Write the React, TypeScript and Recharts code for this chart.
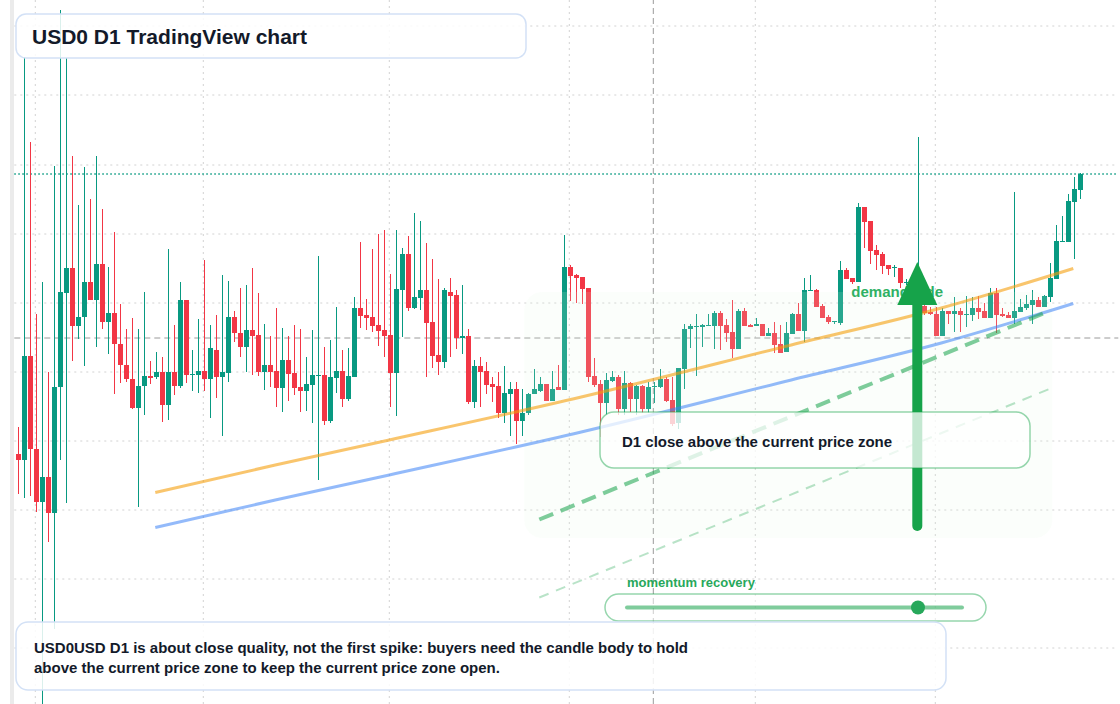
import React from "react";
import {
  ComposedChart,
  XAxis,
  YAxis,
  Bar,
  Line,
  ReferenceLine,
  ReferenceArea,
  ReferenceDot,
} from "recharts";

// USD0 daily candles (29 Jan 2025 onwards)
const opens = [
  1.0250, 1.0244, 1.0348, 1.0255, 1.0202, 1.0227, 1.0191, 1.0317, 1.0411, 1.0436,
  1.0378, 1.0387, 1.0422, 1.0404, 1.0440, 1.0382, 1.0391, 1.0360, 1.0339, 1.0325,
  1.0296, 1.0318, 1.0328, 1.0327, 1.0332, 1.0299, 1.0332, 1.0318, 1.0404, 1.0329,
  1.0329, 1.0333, 1.0325, 1.0354, 1.0327, 1.0331, 1.0387, 1.0371, 1.0357, 1.0374,
  1.0369, 1.0332, 1.0339, 1.0333, 1.0316, 1.0344, 1.0331, 1.0317, 1.0313, 1.0319,
  1.0328, 1.0329, 1.0283, 1.0326, 1.0333, 1.0305, 1.0327, 1.0396, 1.0389, 1.0387,
  1.0379, 1.0374, 1.0369, 1.0331, 1.0414, 1.0450, 1.0396, 1.0406, 1.0414, 1.0382,
  1.0349, 1.0342, 1.0412, 1.0409, 1.0366, 1.0368, 1.0302, 1.0338, 1.0333, 1.0320,
  1.0318, 1.0291, 1.0310, 1.0315, 1.0283, 1.0291, 1.0310, 1.0313, 1.0320, 1.0303,
  1.0317, 1.0314, 1.0437, 1.0429, 1.0427, 1.0416, 1.0328, 1.0320, 1.0301, 1.0323,
  1.0327, 1.0295, 1.0321, 1.0305, 1.0318, 1.0295, 1.0317, 1.0317, 1.0325, 1.0304,
  1.0281, 1.0335, 1.0375, 1.0377, 1.0377, 1.0378, 1.0378, 1.0391, 1.0379, 1.0372,
  1.0355, 1.0393, 1.0379, 1.0378, 1.0380, 1.0368, 1.0371, 1.0360, 1.0352, 1.0370,
  1.0390, 1.0373, 1.0413, 1.0414, 1.0398, 1.0387, 1.0382, 1.0381, 1.0434, 1.0426,
  1.0422, 1.0497, 1.0483, 1.0454, 1.0450, 1.0439, 1.0436, 1.0436, 1.0421, 1.0422,
  1.0400, 1.0398, 1.0392, 1.0390, 1.0368, 1.0393, 1.0390, 1.0393, 1.0389, 1.0389,
  1.0396, 1.0393, 1.0386, 1.0411, 1.0390, 1.0389, 1.0386, 1.0392, 1.0396, 1.0399,
  1.0404, 1.0397, 1.0407, 1.0425, 1.0462, 1.0462, 1.0502, 1.0514,
];
const highs = [
  1.0277, 1.0647, 1.0562, 1.0390, 1.0422, 1.0332, 1.0538, 1.0694, 1.0646, 1.0548,
  1.0499, 1.0537, 1.0505, 1.0548, 1.0495, 1.0437, 1.0472, 1.0400, 1.0375, 1.0386,
  1.0375, 1.0412, 1.0343, 1.0352, 1.0347, 1.0455, 1.0379, 1.0422, 1.0404, 1.0354,
  1.0385, 1.0444, 1.0379, 1.0389, 1.0429, 1.0423, 1.0393, 1.0416, 1.0419, 1.0436,
  1.0411, 1.0380, 1.0368, 1.0396, 1.0376, 1.0368, 1.0379, 1.0375, 1.0347, 1.0374,
  1.0448, 1.0357, 1.0364, 1.0397, 1.0354, 1.0356, 1.0407, 1.0462, 1.0405, 1.0455,
  1.0470, 1.0474, 1.0430, 1.0474, 1.0456, 1.0468, 1.0491, 1.0483, 1.0461, 1.0445,
  1.0425, 1.0416, 1.0426, 1.0414, 1.0419, 1.0375, 1.0344, 1.0347, 1.0342, 1.0327,
  1.0332, 1.0338, 1.0322, 1.0322, 1.0315, 1.0311, 1.0335, 1.0327, 1.0320, 1.0333,
  1.0339, 1.0469, 1.0439, 1.0430, 1.0427, 1.0416, 1.0346, 1.0324, 1.0331, 1.0333,
  1.0329, 1.0333, 1.0322, 1.0319, 1.0319, 1.0322, 1.0322, 1.0335, 1.0327, 1.0327,
  1.0336, 1.0380, 1.0380, 1.0390, 1.0380, 1.0390, 1.0393, 1.0393, 1.0385, 1.0404,
  1.0395, 1.0396, 1.0380, 1.0386, 1.0380, 1.0376, 1.0382, 1.0379, 1.0382, 1.0391,
  1.0401, 1.0426, 1.0429, 1.0415, 1.0400, 1.0389, 1.0383, 1.0443, 1.0436, 1.0426,
  1.0501, 1.0497, 1.0483, 1.0459, 1.0452, 1.0439, 1.0439, 1.0436, 1.0425, 1.0424,
  1.0567, 1.0399, 1.0397, 1.0397, 1.0396, 1.0393, 1.0407, 1.0396, 1.0408, 1.0407,
  1.0408, 1.0401, 1.0416, 1.0416, 1.0396, 1.0392, 1.0512, 1.0405, 1.0409, 1.0414,
  1.0407, 1.0409, 1.0441, 1.0479, 1.0488, 1.0510, 1.0527, 1.0531,
];
const lows = [
  1.0210, 1.0206, 1.0208, 1.0192, 1.0000, 1.0162, 1.0075, 1.0244, 1.0201, 1.0343,
  1.0365, 1.0338, 1.0404, 1.0357, 1.0375, 1.0350, 1.0310, 1.0321, 1.0322, 1.0295,
  1.0197, 1.0289, 1.0320, 1.0325, 1.0282, 1.0284, 1.0309, 1.0316, 1.0321, 1.0313,
  1.0311, 1.0313, 1.0286, 1.0306, 1.0268, 1.0322, 1.0362, 1.0347, 1.0332, 1.0329,
  1.0328, 1.0314, 1.0317, 1.0297, 1.0292, 1.0303, 1.0309, 1.0292, 1.0293, 1.0281,
  1.0224, 1.0279, 1.0281, 1.0311, 1.0297, 1.0303, 1.0327, 1.0376, 1.0374, 1.0372,
  1.0358, 1.0347, 1.0297, 1.0288, 1.0367, 1.0393, 1.0395, 1.0394, 1.0327, 1.0336,
  1.0329, 1.0336, 1.0347, 1.0355, 1.0350, 1.0300, 1.0296, 1.0297, 1.0310, 1.0302,
  1.0286, 1.0281, 1.0268, 1.0260, 1.0268, 1.0289, 1.0310, 1.0312, 1.0303, 1.0303,
  1.0314, 1.0314, 1.0403, 1.0401, 1.0400, 1.0322, 1.0317, 1.0267, 1.0289, 1.0322,
  1.0289, 1.0289, 1.0292, 1.0289, 1.0291, 1.0291, 1.0301, 1.0316, 1.0302, 1.0278,
  1.0275, 1.0315, 1.0356, 1.0328, 1.0357, 1.0378, 1.0355, 1.0354, 1.0362, 1.0346,
  1.0355, 1.0378, 1.0377, 1.0378, 1.0368, 1.0368, 1.0351, 1.0351, 1.0352, 1.0370,
  1.0373, 1.0362, 1.0413, 1.0397, 1.0386, 1.0380, 1.0380, 1.0379, 1.0425, 1.0420,
  1.0422, 1.0456, 1.0440, 1.0434, 1.0430, 1.0429, 1.0427, 1.0416, 1.0419, 1.0404,
  1.0394, 1.0389, 1.0389, 1.0368, 1.0368, 1.0380, 1.0372, 1.0372, 1.0377, 1.0383,
  1.0385, 1.0386, 1.0386, 1.0371, 1.0387, 1.0386, 1.0380, 1.0392, 1.0394, 1.0380,
  1.0397, 1.0397, 1.0402, 1.0425, 1.0462, 1.0462, 1.0445, 1.0505,
];
const closes = [
  1.0244, 1.0348, 1.0255, 1.0202, 1.0227, 1.0191, 1.0317, 1.0412, 1.0436, 1.0378,
  1.0387, 1.0422, 1.0404, 1.0440, 1.0382, 1.0391, 1.0360, 1.0339, 1.0325, 1.0296,
  1.0318, 1.0328, 1.0326, 1.0332, 1.0299, 1.0332, 1.0318, 1.0404, 1.0329, 1.0330,
  1.0333, 1.0325, 1.0356, 1.0327, 1.0332, 1.0387, 1.0371, 1.0357, 1.0374, 1.0368,
  1.0332, 1.0339, 1.0332, 1.0316, 1.0344, 1.0330, 1.0316, 1.0313, 1.0320, 1.0329,
  1.0329, 1.0283, 1.0327, 1.0333, 1.0305, 1.0328, 1.0396, 1.0388, 1.0386, 1.0378,
  1.0373, 1.0368, 1.0331, 1.0415, 1.0450, 1.0396, 1.0407, 1.0414, 1.0381, 1.0348,
  1.0342, 1.0414, 1.0408, 1.0366, 1.0368, 1.0302, 1.0338, 1.0332, 1.0319, 1.0317,
  1.0291, 1.0311, 1.0315, 1.0283, 1.0291, 1.0310, 1.0315, 1.0320, 1.0303, 1.0315,
  1.0314, 1.0437, 1.0428, 1.0426, 1.0415, 1.0327, 1.0319, 1.0301, 1.0324, 1.0327,
  1.0295, 1.0321, 1.0305, 1.0318, 1.0295, 1.0317, 1.0318, 1.0325, 1.0303, 1.0280,
  1.0336, 1.0375, 1.0378, 1.0378, 1.0379, 1.0379, 1.0391, 1.0378, 1.0371, 1.0355,
  1.0393, 1.0378, 1.0377, 1.0380, 1.0368, 1.0371, 1.0359, 1.0351, 1.0371, 1.0390,
  1.0373, 1.0414, 1.0414, 1.0397, 1.0386, 1.0382, 1.0383, 1.0434, 1.0425, 1.0422,
  1.0497, 1.0482, 1.0453, 1.0449, 1.0438, 1.0435, 1.0437, 1.0421, 1.0422, 1.0408,
  1.0406, 1.0391, 1.0390, 1.0368, 1.0393, 1.0390, 1.0393, 1.0389, 1.0390, 1.0396,
  1.0392, 1.0386, 1.0411, 1.0389, 1.0388, 1.0386, 1.0393, 1.0397, 1.0400, 1.0404,
  1.0397, 1.0408, 1.0426, 1.0463, 1.0463, 1.0503, 1.0515, 1.0530,
];

// trend lines: [candle index, price]
const supportUpper: [number, number][] = [
  [23, 1.02115], [43, 1.0239], [62, 1.0264], [94, 1.0307], [129, 1.0359], [154, 1.0396], [176, 1.04355],
];
const supportLower: [number, number][] = [
  [23, 1.01765], [43, 1.0204], [62, 1.0229], [94, 1.0272], [129, 1.0324], [154, 1.0361], [176, 1.04005],
];
const recoveryPath: [number, number][] = [[87, 1.01845], [172, 1.0393]];
const recoveryShadow: [number, number][] = [[87, 1.01065], [172, 1.0315]];

const priceGrid = [1.0678, 1.0609, 1.0539, 1.047, 1.0401, 1.0332, 1.0263, 1.0194, 1.0125, 1.0056];
const monthStarts = ["2025-02-01", "2025-03-01", "2025-04-01", "2025-05-01", "2025-06-01", "2025-07-01"];

const LAST_PRICE = 1.053;
const CROSS_PRICE = 1.0366;
const CROSS_DATE = "2025-05-15";
const ZONE = { from: "2025-04-24", to: "2025-07-20", low: 1.0166, high: 1.0412 };
const SIGNAL_DATE = "2025-06-28";
const DEMAND_DATE = "2025-06-17";

const SLOTS = 184; // candles plus empty space on the right
const START = Date.UTC(2025, 0, 29);
const TEAL = "#089981";
const RED = "#F23645";
const GREEN = "#16a34a";
const FONT = '"Liberation Sans", Arial, sans-serif';

const toMap = (pts: [number, number][]) => new Map(pts);
const upperMap = toMap(supportUpper);
const lowerMap = toMap(supportLower);
const pathMap = toMap(recoveryPath);
const shadowMap = toMap(recoveryShadow);

const rows = Array.from({ length: SLOTS }, (_, i) => {
  const has = i < opens.length;
  return {
    date: new Date(START + i * 86400000).toISOString().slice(0, 10),
    o: has ? opens[i] : null,
    h: has ? highs[i] : null,
    l: has ? lows[i] : null,
    c: has ? closes[i] : null,
    upper: upperMap.get(i) ?? null,
    lower: lowerMap.get(i) ?? null,
    path: pathMap.get(i) ?? null,
    shadow: shadowMap.get(i) ?? null,
  };
});

const Candle = (props: any) => {
  const { x, y, width, height, payload } = props;
  if (!payload || payload.o == null) return null;
  const { o, h, l, c } = payload;
  const top = Math.min(y, y + height);
  const bottom = Math.max(y, y + height);
  const span = h - l || 1e-9;
  const py = (v: number) => top + ((h - v) / span) * (bottom - top);
  const color = c >= o ? TEAL : RED;
  const cx = Math.round(x + width / 2);
  const bTop = Math.round(py(Math.max(o, c)));
  const bBot = Math.round(py(Math.min(o, c)));
  return (
    <g>
      <line x1={cx + 0.5} x2={cx + 0.5} y1={top} y2={bottom} stroke={color} strokeWidth={1} />
      <rect x={cx - 2} y={bTop} width={5} height={Math.max(1, bBot - bTop)} fill={color} />
    </g>
  );
};

const ZoneShape = (props: any) => (
  <rect
    x={props.x}
    y={props.y}
    width={props.width}
    height={props.height}
    rx={18}
    fill="#e1f6e6"
    fillOpacity={0.15}
  />
);

const DemandLabel = (props: any) => (
  <text
    x={props.cx}
    y={props.cy}
    fill="#2fb164"
    fontFamily={FONT}
    fontWeight={700}
    fontSize={15}
  >
    demand side
  </text>
);

const ArrowHead = (props: any) => {
  const { cx, cy } = props;
  return <polygon points={`${cx},${cy} ${cx - 20},${cy + 43} ${cx + 20},${cy + 43}`} fill={GREEN} />;
};

const gridStyle = { stroke: "#d2d2d2", strokeDasharray: "2 4", strokeWidth: 1 };

const Overlay = () => (
  <svg
    width={1120}
    height={704}
    style={{ position: "absolute", left: 0, top: 0, pointerEvents: "none" }}
  >
    <rect x={10} y={0} width={4} height={704} fill="#ebebeb" />

    <rect x={600} y={412} width={430} height={56} rx={14} fill="#ffffff" fillOpacity={0.75}
      stroke={GREEN} strokeOpacity={0.45} strokeWidth={1.5} />
    <text x={622} y={447} fontFamily={FONT} fontWeight={700} fontSize={15} fill="#131a2a">
      D1 close above the current price zone
    </text>

    <text x={627} y={587} fontFamily={FONT} fontWeight={700} fontSize={13} fill="#27a85b">
      momentum recovery
    </text>
    <rect x={605} y={594} width={381} height={27} rx={13.5} fill="#ffffff" fillOpacity={0.5}
      stroke={GREEN} strokeOpacity={0.45} strokeWidth={1.5} />
    <line x1={627} x2={962} y1={607.5} y2={607.5} stroke={GREEN} strokeOpacity={0.55}
      strokeWidth={4} strokeLinecap="round" />
    <circle cx={918} cy={607.5} r={7} fill="#27a85b" />

    <rect x={16} y={14} width={510} height={44} rx={10} fill="#ffffff" fillOpacity={0.85}
      stroke="#d3e1f6" strokeWidth={1.5} />
    <text x={32} y={43.5} fontFamily={FONT} fontWeight={700} fontSize={21} fill="#131a2a">
      USD0 D1 TradingView chart
    </text>

    <rect x={16} y={622} width={930} height={68} rx={12} fill="#ffffff" fillOpacity={0.85}
      stroke="#d3e1f6" strokeWidth={1.5} />
    <text fontFamily={FONT} fontWeight={700} fontSize={15} fill="#131a2a">
      <tspan x={34} y={653}>
        USD0USD D1 is about close quality, not the first spike: buyers need the candle body to hold
      </tspan>
      <tspan x={34} y={673}>above the current price zone to keep the current price zone open.</tspan>
    </text>
  </svg>
);

export default function App() {
  return (
    <div
      style={{ position: "fixed", left: 0, top: 0, width: 1120, height: 704, background: "#fff", overflow: "hidden" }}
    >
      <ComposedChart
        width={1120}
        height={704}
        data={rows}
        margin={{ top: 0, right: 1.7, bottom: 0, left: 14.3 }}
      >
        <XAxis dataKey="date" type="category" hide />
        <YAxis type="number" domain={[1.0, 1.0704]} allowDataOverflow hide />

        {priceGrid.map((p) => (
          <ReferenceLine key={`h${p}`} y={p} {...gridStyle} zIndex={-100} />
        ))}
        {monthStarts.map((d) => (
          <ReferenceLine key={`v${d}`} x={d} {...gridStyle} zIndex={-100} />
        ))}
        <ReferenceLine y={CROSS_PRICE} stroke="#9a9a9a" strokeDasharray="6 4" zIndex={-50} />
        <ReferenceLine x={CROSS_DATE} stroke="#9a9a9a" strokeDasharray="6 4" zIndex={-50} />
        <ReferenceLine y={LAST_PRICE} stroke={TEAL} strokeDasharray="1.5 2.5" strokeWidth={1.5} zIndex={-40} />

        <Bar
          dataKey={(d: any) => (d.o == null ? null : [d.l, d.h])}
          barSize={5}
          shape={Candle}
          isAnimationActive={false}
          zIndex={300}
        />

        <ReferenceArea
          x1={ZONE.from}
          x2={ZONE.to}
          y1={ZONE.low}
          y2={ZONE.high}
          shape={ZoneShape}
          zIndex={350}
        />

        <Line dataKey="upper" type="monotone" stroke="#f59e0b" strokeOpacity={0.6} strokeWidth={3}
          dot={false} activeDot={false} connectNulls isAnimationActive={false} zIndex={400} />
        <Line dataKey="lower" type="monotone" stroke="#3b82f6" strokeOpacity={0.55} strokeWidth={3}
          dot={false} activeDot={false} connectNulls isAnimationActive={false} zIndex={400} />
        <Line dataKey="path" type="linear" stroke={GREEN} strokeOpacity={0.55} strokeWidth={4}
          strokeDasharray="15 8" dot={false} activeDot={false} connectNulls isAnimationActive={false} zIndex={400} />
        <Line dataKey="shadow" type="linear" stroke={GREEN} strokeOpacity={0.3} strokeWidth={2}
          strokeDasharray="10 8" dot={false} activeDot={false} connectNulls isAnimationActive={false} zIndex={400} />

        <ReferenceDot x={DEMAND_DATE} y={1.0407} r={0} shape={DemandLabel} zIndex={450} />
        <ReferenceLine
          segment={[{ x: SIGNAL_DATE, y: 1.0178 }, { x: SIGNAL_DATE, y: 1.0399 }]}
          stroke={GREEN}
          strokeWidth={10}
          strokeLinecap="round"
          zIndex={500}
        />
        <ReferenceDot x={SIGNAL_DATE} y={1.0442} r={0} shape={ArrowHead} zIndex={510} />
      </ComposedChart>
      <Overlay />
    </div>
  );
}
